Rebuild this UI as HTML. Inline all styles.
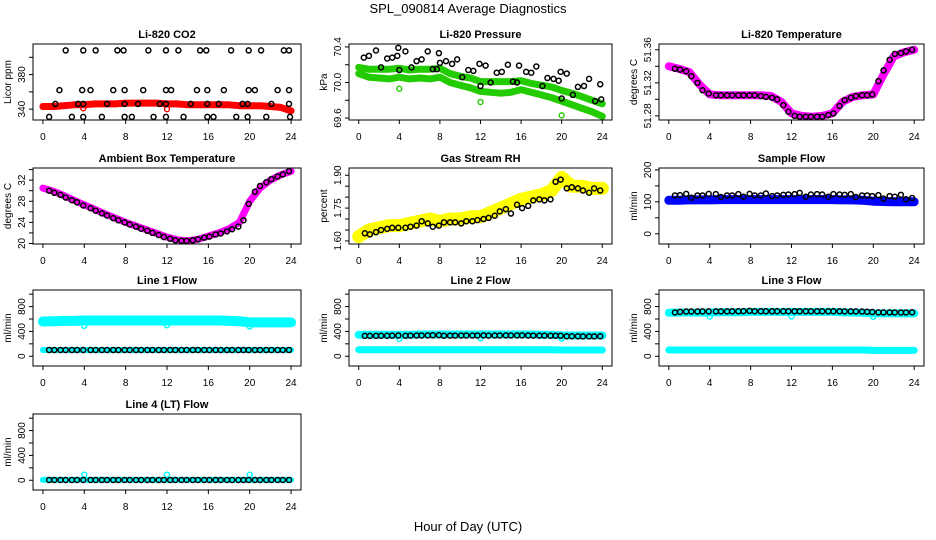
<!DOCTYPE html>
<html><head><meta charset="utf-8">
<style>
html,body{margin:0;padding:0;background:#fff;}
svg{display:block;font-family:"Liberation Sans",Arial,sans-serif;}
</style></head>
<body>
<svg id="chart" width="936" height="540" viewBox="0 0 936 540" xmlns="http://www.w3.org/2000/svg">
<rect x="0" y="0" width="936" height="540" fill="#fff"/>
<text x="468" y="13" text-anchor="middle" font-size="13">SPL_090814  Average Diagnostics</text>
<text x="468" y="531" text-anchor="middle" font-size="13">Hour of Day (UTC)</text>
</svg>
<script>
// ---- data ----
const hours = [0,1,2,3,4,5,6,7,8,9,10,11,12,13,14,15,16,17,18,19,20,21,22,23,24];
const blackT = [0.6,1.1,1.7,2.2,2.8,3.3,3.9,4.6,5.1,5.7,6.2,6.8,7.3,7.9,8.4,9.0,9.5,10.1,10.6,11.2,11.7,12.3,12.8,13.4,13.9,14.5,15.0,15.6,16.1,16.7,17.2,17.8,18.3,18.9,19.4,19.9,20.5,21.0,21.6,22.1,22.7,23.2,23.8];
const xTicks = [0,4,8,12,16,20,24];

const co2Band = [343,343,344,345,345,346,346,346,347,347,347,347,346,346,345,345,345,345,345,344,344,344,343,342,338];
const co2T = [2.2,3.9,5.1,7.2,7.8,10.2,11.9,13.1,15.2,15.8,18.2,19.9,21.1,23.3,23.8,
 1.6,3.8,4.6,6.8,7.9,9.7,11.9,12.4,14.9,15.9,17.5,19.9,20.5,22.7,23.8,
 1.2,3.4,3.9,6.2,7.9,9.2,11.3,11.9,14.3,15.9,17.0,19.3,19.8,22.1,23.8,
 0.6,2.8,3.9,5.7,7.9,8.6,10.7,11.9,13.6,15.9,16.5,18.7,19.8,21.6,23.9];
const co2V = [408,408,408,408,408,408,408,408,408,408,408,408,408,408,408,
 362,362,362,362,362,362,362,362,362,362,362,362,362,362,362,
 346,346,346,346,346,346,346,346,346,346,346,346,346,346,346,
 331,331,331,331,331,331,331,331,331,331,331,331,331,331,331];
const co2OutT = [3.9,12.0];
const co2OutV = [341,340];

const presUpper = [70.17,70.15,70.15,70.15,70.16,70.14,70.15,70.15,70.16,70.10,70.07,70.05,70.01,70.01,70.01,70.01,70.02,69.99,69.97,69.95,69.91,69.88,69.84,69.80,69.76];
const presLower = [70.10,70.06,70.05,70.04,70.06,70.04,70.05,70.04,70.06,70.00,69.97,69.94,69.90,69.89,69.88,69.89,69.92,69.89,69.86,69.83,69.79,69.75,69.71,69.67,69.62];
const presT = [0.5,1.0,1.7,2.2,2.8,3.3,3.8,3.9,4.0,4.6,5.2,5.7,6.2,6.8,7.3,7.7,7.9,8.0,8.6,9.2,9.7,10.2,10.8,11.3,11.9,12.0,12.5,13.0,13.6,14.1,14.7,15.2,15.6,15.8,16.5,17.0,17.5,18.1,18.6,19.2,19.7,19.9,20.0,20.5,21.1,21.6,22.2,22.7,23.3,23.8,23.9];
const presV = [70.28,70.30,70.36,70.17,70.27,70.28,70.30,70.39,70.14,70.35,70.17,70.24,70.26,70.35,70.15,70.15,70.33,70.22,70.24,70.21,70.26,70.06,70.14,70.13,70.21,69.96,70.19,70.00,70.11,70.12,70.20,70.01,70.00,70.19,70.12,70.11,70.18,69.96,70.05,70.04,70.02,70.12,69.82,70.10,69.86,69.95,69.96,70.04,69.79,69.98,69.81];
const presOutT = [4.0,12.0,20.0];
const presOutV = [69.93,69.78,69.63];

const ltBand = [51.340,51.337,51.333,51.318,51.306,51.305,51.305,51.305,51.305,51.305,51.304,51.297,51.283,51.280,51.279,51.280,51.283,51.297,51.303,51.305,51.306,51.330,51.352,51.357,51.360];
const ltBlack = [51.337,51.336,51.334,51.328,51.320,51.311,51.307,51.305,51.305,51.305,51.305,51.305,51.305,51.305,51.305,51.304,51.303,51.302,51.300,51.293,51.285,51.280,51.279,51.279,51.279,51.279,51.279,51.281,51.283,51.292,51.299,51.302,51.304,51.305,51.305,51.306,51.322,51.335,51.348,51.355,51.356,51.358,51.360];

const ambBand = [30.5,29.9,29.1,28.2,27.3,26.5,25.6,24.8,24.0,23.3,22.6,21.9,21.2,20.7,20.5,20.8,21.4,22.0,22.8,24.0,28.0,30.5,32.0,33.0,33.7];
const ambBlack = [30.0,29.6,29.2,28.7,28.2,27.8,27.2,26.7,26.2,25.7,25.3,24.8,24.4,24.0,23.6,23.2,22.8,22.4,22.0,21.6,21.2,20.9,20.6,20.5,20.5,20.6,20.8,21.1,21.3,21.7,21.9,22.3,22.7,23.2,24.4,27.5,29.8,30.9,31.6,32.2,32.7,33.1,33.7];

const rhBand = [1.62,1.65,1.66,1.67,1.67,1.68,1.69,1.70,1.69,1.70,1.70,1.71,1.71,1.73,1.75,1.77,1.79,1.80,1.81,1.83,1.89,1.85,1.85,1.84,1.84];
const rhBlack = [1.635,1.63,1.64,1.65,1.655,1.66,1.66,1.66,1.665,1.67,1.69,1.68,1.665,1.67,1.685,1.685,1.685,1.68,1.69,1.69,1.695,1.70,1.705,1.715,1.735,1.745,1.725,1.765,1.75,1.76,1.785,1.79,1.785,1.79,1.87,1.88,1.84,1.845,1.84,1.83,1.82,1.84,1.83];

const sfBand = [105,105,106,106,106,107,107,107,107,107,107,107,107,107,107,107,107,106,106,105,102,101,100,100,100];
const sfBlack = [120,121,125,113,120,120,125,124,115,120,120,124,116,125,120,120,126,118,120,122,123,124,128,116,123,124,123,116,124,123,122,124,115,120,120,118,121,110,118,116,122,108,112];

const l1Band = [560,565,570,570,575,575,575,575,575,575,575,575,575,575,575,575,575,575,570,565,545,545,545,545,545];
const l1Low = [100,100,100,100,100,100,100,100,100,100,100,100,100,100,100,100,100,100,100,100,100,100,100,100,100];
const l1Black = [100,100,100,100,100,100,100,100,100,100,100,100,100,100,100,100,100,100,100,100,100,100,100,100,100,100,100,100,100,100,100,100,100,100,100,100,100,100,100,100,100,100,100];

const l2Band = [345,345,345,345,345,345,350,350,350,350,350,350,350,350,350,350,350,350,345,345,335,335,335,335,335];
const l2Low = [105,105,105,105,105,105,105,105,105,105,105,105,105,105,105,105,105,105,105,105,100,100,100,100,100];
const l2Black = [328,328,328,330,330,332,335,330,332,334,335,336,338,340,330,332,333,334,335,335,335,336,332,334,335,336,335,336,337,335,332,332,332,330,330,330,322,322,322,320,320,320,322];

const l3Band = [700,705,705,705,705,710,710,710,715,715,715,715,715,715,715,715,715,710,705,700,690,690,690,690,690];
const l3Low = [100,100,100,100,100,100,100,100,100,100,100,100,100,100,100,100,100,100,100,100,95,95,95,95,95];
const l3Black = [705,715,720,720,720,722,722,722,722,722,724,724,726,730,725,724,724,724,724,724,725,725,724,724,724,724,724,724,724,724,722,722,722,720,716,712,706,706,706,705,705,705,708];

const l4Band = [5,5,5,5,5,5,5,5,5,5,5,5,5,5,5,5,5,5,5,5,5,5,5,5,5];
const l4Black = [5,5,5,5,5,5,5,5,5,5,5,5,5,5,5,5,5,5,5,5,5,5,5,5,5,5,5,5,5,5,5,5,5,5,5,5,5,5,5,5,5,5,5];
const l4OutT = [4.0,12.0,20.0];
const l4OutV = [90,90,90];
const flowOutT = [4.0,12.0,20.0];

// ---- layout ----
const NS = "http://www.w3.org/2000/svg";
const svg = document.getElementById('chart');
const colL = [33,349,659], colR = [301,612,924];
const rowT = [44,168,290,414], rowH = 76;

function mk(tag, attrs, parent){
  const e = document.createElementNS(NS, tag);
  for (const k in attrs) e.setAttribute(k, attrs[k]);
  (parent||svg).appendChild(e);
  return e;
}

function panel(cfg){
  const L = colL[cfg.col], R = colR[cfg.col], T = rowT[cfg.row], B = T + rowH;
  const g = mk('g', {});
  
  
  const x = h => L + (h + 0.96) / 25.92 * (R - L);
  const y = v => B - (v - cfg.ymin) / (cfg.ymax - cfg.ymin) * (B - T);
  const clip = 'clip-' + cfg.name;
  const cp = mk('clipPath', {id: clip}, g);
  mk('rect', {x: L, y: T, width: R - L, height: B - T}, cp);
  const plot = mk('g', {'clip-path': 'url(#' + clip + ')'}, g);
  
  
  (cfg.bands || []).forEach((b, i) => {
    const pts = b.t.map((t, j) => x(t).toFixed(1) + ',' + y(b.v[j]).toFixed(1)).join(' ');
    const pl = mk('polyline', {points: pts, fill: 'none', stroke: b.color, 'stroke-width': b.w, 'stroke-linejoin': 'round', 'stroke-linecap': 'round'}, plot);
    
    
  });
  (cfg.outs || []).forEach(o => {
    o.t.forEach((t, j) => {
      const c = mk('circle', {cx: x(t), cy: y(o.v[j]), r: 2.5, fill: 'none', stroke: o.color, 'stroke-width': 1.4}, plot);
      
      
    });
  });
  if (cfg.black) {
    cfg.black.t.forEach((t, j) => {
      const c = mk('circle', {cx: x(t), cy: y(cfg.black.v[j]), r: 2.5, fill: 'none', stroke: '#000', 'stroke-width': 1.5}, plot);
      
      
    });
  }
  const box = mk('rect', {x: L, y: T, width: R - L, height: B - T, fill: 'none', stroke: '#000', 'stroke-width': 1}, g);
  
  
  const tt = mk('text', {x: (L + R) / 2, y: T - 6, 'text-anchor': 'middle', 'font-size': 11, 'font-weight': 'bold'}, g);
  tt.textContent = cfg.title;
  
  
  mk('line', {x1: x(xTicks[0]), x2: x(xTicks[xTicks.length - 1]), y1: B, y2: B, stroke: '#000'}, g);
  xTicks.forEach(t => {
    mk('line', {x1: x(t), x2: x(t), y1: B, y2: B + 4, stroke: '#000'}, g);
    const lb = mk('text', {x: x(t), y: B + 20, 'text-anchor': 'middle', 'font-size': 10}, g);
    lb.textContent = t;
    
    
  });
  cfg.yTicks.forEach((v, i) => {
    mk('line', {x1: L - 4, x2: L, y1: y(v), y2: y(v), stroke: '#000'}, g);
    const s = cfg.yLabels[i];
    if (s !== '') {
      const lb = mk('text', {x: 0, y: 0, 'text-anchor': 'middle', 'font-size': 10, transform: 'translate(' + (L - 8) + ',' + y(v) + ') rotate(-90)'}, g);
      lb.textContent = s;
      
      
    }
  });
  const yl = mk('text', {x: 0, y: 0, 'text-anchor': 'middle', 'font-size': 10, transform: 'translate(' + (L - 22) + ',' + (T + B) / 2 + ') rotate(-90)'}, g);
  yl.textContent = cfg.ylab;
  
  
}

const flowTicks = [0,200,400,600,800,1000];
const flowLabels = ['0','','400','','800',''];

panel({name:'co2', col:0, row:0, title:'Li-820 CO2', ylab:'Licor ppm', ymin:327.4, ymax:415.4,
  yTicks:[340,360,380,400], yLabels:['340','','380',''],
  bands:[{t:hours, v:co2Band, color:'#ff0000', w:7}],
  outs:[{t:co2OutT, v:co2OutV, color:'#ff0000'}],
  black:{t:co2T, v:co2V}});
panel({name:'pressure', col:1, row:0, title:'Li-820 Pressure', ylab:'kPa', ymin:69.578, ymax:70.433,
  yTicks:[69.6,69.8,70.0,70.2,70.4], yLabels:['69.6','','70.0','','70.4'],
  bands:[{t:hours, v:presUpper, color:'#22cc00', w:7},{t:hours, v:presLower, color:'#22cc00', w:7}],
  outs:[{t:presOutT, v:presOutV, color:'#22cc00'}],
  black:{t:presT, v:presV}});
panel({name:'li820-temperature', col:2, row:0, title:'Li-820 Temperature', ylab:'degrees C', ymin:51.275, ymax:51.367,
  yTicks:[51.28,51.30,51.32,51.34,51.36], yLabels:['51.28','','51.32','','51.36'],
  bands:[{t:hours, v:ltBand, color:'#ff00ff', w:8}],
  black:{t:blackT, v:ltBlack}});
panel({name:'ambient-temperature', col:0, row:1, title:'Ambient Box Temperature', ylab:'degrees C', ymin:19.9, ymax:34.3,
  yTicks:[20,22,24,26,28,30,32,34], yLabels:['20','','24','','28','','32',''],
  bands:[{t:hours, v:ambBand, color:'#ff00ff', w:7}],
  black:{t:blackT, v:ambBlack}});
panel({name:'gas-stream-rh', col:1, row:1, title:'Gas Stream RH', ylab:'percent', ymin:1.586, ymax:1.933,
  yTicks:[1.60,1.65,1.70,1.75,1.80,1.85,1.90], yLabels:['1.60','','','1.75','','','1.90'],
  bands:[{t:hours, v:rhBand, color:'#ffff00', w:13}],
  black:{t:blackT, v:rhBlack}});
panel({name:'sample-flow', col:2, row:1, title:'Sample Flow', ylab:'ml/min', ymin:-32, ymax:206,
  yTicks:[0,50,100,150,200], yLabels:['0','','100','','200'],
  bands:[{t:hours, v:sfBand, color:'#0000ff', w:9}],
  black:{t:blackT, v:sfBlack}});
panel({name:'line1-flow', col:0, row:2, title:'Line 1 Flow', ylab:'ml/min', ymin:-157, ymax:1067,
  yTicks:flowTicks, yLabels:flowLabels,
  bands:[{t:hours, v:l1Band, color:'#00ffff', w:10},{t:hours, v:l1Low, color:'#00ffff', w:6}],
  outs:[{t:flowOutT, v:[490,500,480], color:'#00ffff'}],
  black:{t:blackT, v:l1Black}});
panel({name:'line2-flow', col:1, row:2, title:'Line 2 Flow', ylab:'ml/min', ymin:-157, ymax:1067,
  yTicks:flowTicks, yLabels:flowLabels,
  bands:[{t:hours, v:l2Band, color:'#00ffff', w:8},{t:hours, v:l2Low, color:'#00ffff', w:7}],
  outs:[{t:flowOutT, v:[280,290,285], color:'#00ffff'}],
  black:{t:blackT, v:l2Black}});
panel({name:'line3-flow', col:2, row:2, title:'Line 3 Flow', ylab:'ml/min', ymin:-157, ymax:1067,
  yTicks:flowTicks, yLabels:flowLabels,
  bands:[{t:hours, v:l3Band, color:'#00ffff', w:8},{t:hours, v:l3Low, color:'#00ffff', w:7}],
  outs:[{t:flowOutT, v:[640,640,635], color:'#00ffff'}],
  black:{t:blackT, v:l3Black}});
panel({name:'line4-flow', col:0, row:3, title:'Line 4 (LT) Flow', ylab:'ml/min', ymin:-157, ymax:1067,
  yTicks:flowTicks, yLabels:flowLabels,
  bands:[{t:hours, v:l4Band, color:'#00ffff', w:6}],
  outs:[{t:l4OutT, v:l4OutV, color:'#00ffff'}],
  black:{t:blackT, v:l4Black}});
</script>
</body></html>
